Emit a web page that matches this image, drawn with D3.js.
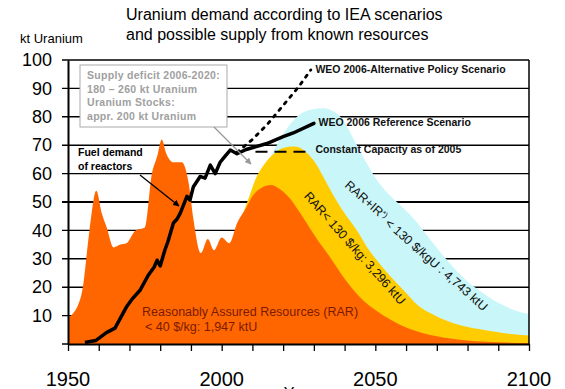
<!DOCTYPE html>
<html>
<head>
<meta charset="utf-8">
<script src="https://cdn.jsdelivr.net/npm/d3@7"></script>
<style>
  body { margin: 0; background: #fff; }
  text { font-family: "Liberation Sans", Arial, sans-serif; }
</style>
</head>
<body>
<div id="chart"></div>
<script>
// RAR < 40 $/kg (history of production + future)
const orangeYears = [1950, 1951, 1954.5, 1957, 1959.2, 1961, 1962.6, 1964.8, 1967, 1969, 1972, 1975, 1977.3, 1979, 1980.5, 1982, 1984.3, 1987, 1989.2, 1990.8, 1993.2, 1995.5, 1997.5, 2000, 2002.5, 2005, 2008, 2010, 2013, 2016, 2019, 2022, 2025, 2028, 2031, 2035, 2040, 2045, 2050, 2055, 2060, 2065, 2070, 2080, 2090, 2100];
const orangeValues = [9, 10, 18, 40, 54, 46, 41, 34, 35, 35.5, 40, 41, 60, 66, 72, 67, 64, 64, 57, 44, 32, 37, 33, 37.5, 35.5, 42.5, 48, 52, 55, 56, 54.5, 51.5, 47, 42, 37, 31, 23, 16.5, 12, 8.5, 5.8, 4, 2.7, 1.2, 0.6, 0.3];

// RAR < 130 $/kg
const yellowYears = [2007, 2009, 2011, 2014, 2017, 2020, 2023.5, 2027, 2030, 2033, 2036, 2040, 2044, 2048, 2052, 2056, 2060, 2064, 2068, 2072, 2078, 2085, 2092, 2100];
const yellowValues = [46, 52, 58, 63.5, 67, 69, 69.5, 68, 64.5, 59, 53, 46, 40, 33, 27.5, 22.5, 18, 13.5, 10.8, 8.7, 6.5, 5, 3.8, 3];

// RAR + IR < 130 $/kgU
const blueYears = [2016, 2019, 2022, 2025, 2029, 2033, 2037, 2040, 2043, 2047, 2051, 2055, 2059, 2063, 2067, 2071, 2075, 2080, 2085, 2090, 2095, 2100];
const blueValues = [66, 72, 77, 80.5, 82.5, 83, 81.5, 78, 72, 64, 57, 52, 48, 43.5, 38, 32.5, 27.5, 22, 18, 14.5, 12, 10.5];

// fuel demand of reactors
const demandYears = [1955.5, 1959, 1962.5, 1965.3, 1967, 1969, 1971, 1973.5, 1976, 1978, 1979, 1980, 1981.5, 1982.5, 1984.3, 1985.5, 1986.5, 1988.7, 1989.7, 1990.8, 1993, 1994.6, 1996.3, 1997.9, 1999.5, 2001, 2002.8, 2005];
const demandValues = [0.5, 1.2, 4, 5.6, 9, 13, 16, 19, 24, 27, 29.5, 27.5, 33, 36, 42.6, 44, 46, 52, 50.7, 55.4, 59, 58.4, 63, 60, 64, 66, 68.3, 67];

const refYears = [2005, 2008, 2014.7, 2020, 2023.3, 2030];
const refValues = [67, 68.5, 70.6, 73, 74.3, 77.7];

const altYears = [2005, 2010, 2015, 2020, 2025, 2029];
const altValues = [67.5, 72, 77.5, 84, 90.5, 96.5];

const constYears = [2011, 2029];
const constValues = [67.7, 67.7];

const yTicks = [0, 10, 20, 30, 40, 50, 60, 70, 80, 90, 100];
const xTicks = d3.range(1950, 2101, 10);
const xLabels = [1950, 2000, 2050, 2100];

const width = 565, height = 389;
const margin = { top: 60, right: 36, bottom: 45, left: 68 };

const svg = d3.select("#chart").append("svg")
    .attr("width", width)
    .attr("height", height)
    .attr("viewBox", [0, 0, width, height]);

const x = d3.scaleLinear()
    .domain([1950, 2100])
    .range([margin.left, width - margin.right]);

const y = d3.scaleLinear()
    .domain([0, 100])
    .range([height - margin.bottom, margin.top]);

const defs = svg.append("defs");
function arrowMarker(id, color) {
    defs.append("marker")
        .attr("id", id)
        .attr("viewBox", "0 0 10 10")
        .attr("refX", 9).attr("refY", 5)
        .attr("markerWidth", 5).attr("markerHeight", 5)
        .attr("orient", "auto")
        .append("path")
        .attr("d", "M0,0 L10,5 L0,10 z")
        .attr("fill", color);
}
arrowMarker("arrBlack", "#000");
arrowMarker("arrGray", "#999");

// grid lines (with the little ticks left of the axis)
svg.append("g")
    .selectAll("line")
    .data(yTicks)
    .join("line")
    .attr("x1", margin.left - 6)
    .attr("x2", x(2100))
    .attr("y1", d => y(d))
    .attr("y2", d => y(d))
    .attr("stroke", "#000")
    .attr("stroke-width", d => d === 50 ? 2 : 1.4);

// areas
function drawArea(years, values, color) {
    const pts = years.map((yr, i) => ({ yr, v: values[i] }));
    const area = d3.area()
        .x(d => x(d.yr))
        .y0(y(0))
        .y1(d => y(d.v))
        .curve(d3.curveMonotoneX);
    svg.append("path")
        .datum(pts)
        .attr("fill", color)
        .attr("d", area);
}
drawArea(blueYears, blueValues, "#C9F6F9");
drawArea(yellowYears, yellowValues, "#FFCC00");
drawArea(orangeYears, orangeValues, "#FF6600");

// frame
svg.append("line")
    .attr("x1", x(2100)).attr("x2", x(2100))
    .attr("y1", y(100)).attr("y2", y(0))
    .attr("stroke", "#000").attr("stroke-width", 1.5);

// y axis
svg.append("g")
    .attr("transform", `translate(${margin.left},0)`)
    .call(d3.axisLeft(y).tickValues(yTicks.filter(d => d > 0)).tickSize(0).tickPadding(16))
    .call(g => g.select(".domain").attr("stroke-width", 2))
    .call(g => g.selectAll("text")
        .attr("font-size", 18)
        .attr("font-family", "'Liberation Sans', Arial, sans-serif")
        .attr("fill", "#000"));

// x axis
svg.append("g")
    .attr("transform", `translate(0,${y(0)})`)
    .call(d3.axisBottom(x).tickValues(xTicks).tickSize(7).tickSizeOuter(0).tickFormat(""))
    .call(g => g.select(".domain").attr("stroke-width", 2))
    .call(g => g.selectAll(".tick line").attr("stroke-width", 1.3));

svg.append("g")
    .selectAll("text")
    .data(xLabels)
    .join("text")
    .attr("x", d => x(d))
    .attr("y", 386)
    .attr("text-anchor", "middle")
    .attr("font-size", 20)
    .text(d => d);

svg.append("text")
    .attr("x", 300).attr("y", 399)
    .attr("text-anchor", "middle")
    .attr("font-size", 16)
    .text("Year");

// lines
const line = d3.line().x(d => x(d.yr)).y(d => y(d.v));
function pts(years, values) { return years.map((yr, i) => ({ yr, v: values[i] })); }

svg.append("path")
    .datum(pts(constYears, constValues))
    .attr("fill", "none").attr("stroke", "#000")
    .attr("stroke-width", 2.2)
    .attr("stroke-dasharray", "12,7")
    .attr("d", line);

svg.append("path")
    .datum(pts(altYears, altValues))
    .attr("fill", "none").attr("stroke", "#000")
    .attr("stroke-width", 2.8)
    .attr("stroke-linecap", "round")
    .attr("stroke-dasharray", "2.5,6")
    .attr("d", line);

svg.append("path")
    .datum(pts(demandYears, demandValues))
    .attr("fill", "none").attr("stroke", "#000")
    .attr("stroke-width", 3.5)
    .attr("stroke-linejoin", "round")
    .attr("d", line);

svg.append("path")
    .datum(pts(refYears, refValues))
    .attr("fill", "none").attr("stroke", "#000")
    .attr("stroke-width", 3.5)
    .attr("stroke-linecap", "round")
    .attr("d", line);

// scenario labels
const labels = [
    { t: "WEO 2006-Alternative Policy Scenario", yr: 2030.5, v: 95.5 },
    { t: "WEO 2006 Reference Scenario", yr: 2031.5, v: 76.8 },
    { t: "Constant Capacity as of 2005", yr: 2030.5, v: 67.4 }
];
svg.append("g")
    .selectAll("text")
    .data(labels)
    .join("text")
    .attr("x", d => x(d.yr))
    .attr("y", d => y(d.v))
    .attr("font-size", 10.5)
    .attr("font-weight", "bold")
    .attr("fill", "#111")
    .text(d => d.t);

// supply deficit box
svg.append("rect")
    .attr("x", 80).attr("y", 65)
    .attr("width", 147).attr("height", 62)
    .attr("fill", "#fff")
    .attr("stroke", "#aaa");
const boxLines = ["Supply deficit 2006-2020:", "180 \u2013 260 kt Uranium", "Uranium Stocks:", "appr. 200 kt Uranium"];
svg.append("g")
    .selectAll("text")
    .data(boxLines)
    .join("text")
    .attr("x", 87)
    .attr("y", (d, i) => 79 + i * 13.7)
    .attr("font-size", 10.5)
    .attr("font-weight", "bold")
    .attr("letter-spacing", 0.3)
    .attr("fill", "#a0a0a0")
    .text(d => d);
svg.append("line")
    .attr("x1", 214).attr("y1", 127)
    .attr("x2", 251).attr("y2", 164)
    .attr("stroke", "#999").attr("stroke-width", 1.3)
    .attr("marker-end", "url(#arrGray)");

// fuel demand label
svg.append("g")
    .selectAll("text")
    .data(["Fuel demand", "of reactors"])
    .join("text")
    .attr("x", 78)
    .attr("y", (d, i) => 156 + i * 13.5)
    .attr("font-size", 10.5)
    .attr("font-weight", "bold")
    .text(d => d);
svg.append("line")
    .attr("x1", 140).attr("y1", 175)
    .attr("x2", 179).attr("y2", 206)
    .attr("stroke", "#000").attr("stroke-width", 1.3)
    .attr("marker-end", "url(#arrBlack)");

// RAR text
svg.append("g")
    .selectAll("text")
    .data(["Reasonably Assured Resources (RAR)", "< 40 $/kg: 1,947 ktU"])
    .join("text")
    .attr("x", (d, i) => i === 0 ? 142 : 145)
    .attr("y", (d, i) => 316 + i * 15)
    .attr("font-size", 12.5)
    .attr("fill", "#7a1a00")
    .text(d => d);

svg.append("text")
    .attr("transform", "translate(355,248) rotate(48.5)")
    .attr("text-anchor", "middle")
    .attr("dy", "0.35em")
    .attr("font-size", 12.5)
    .attr("fill", "#111")
    .text("RAR< 130 $/kg: 3,296 ktU");

const t2 = svg.append("text")
    .attr("transform", "translate(417,245) rotate(41.5)")
    .attr("text-anchor", "middle")
    .attr("dy", "0.35em")
    .attr("font-size", 12.5)
    .attr("fill", "#111");
t2.append("tspan").text("RAR+IR");
t2.append("tspan").attr("dy", "-0.4em").attr("font-size", 8).text("*)");
t2.append("tspan").attr("dy", "0.4em").text(" < 130 $/kgU : 4,743 ktU");

// titles
svg.append("text")
    .attr("x", 20).attr("y", 43)
    .attr("font-size", 13)
    .text("kt Uranium");
svg.append("g")
    .selectAll("text")
    .data(["Uranium demand according to IEA scenarios", "and possible supply from known resources"])
    .join("text")
    .attr("x", 126)
    .attr("y", (d, i) => 20 + i * 19.5)
    .attr("font-size", 16)
    .text(d => d);
</script>
</body>
</html>
